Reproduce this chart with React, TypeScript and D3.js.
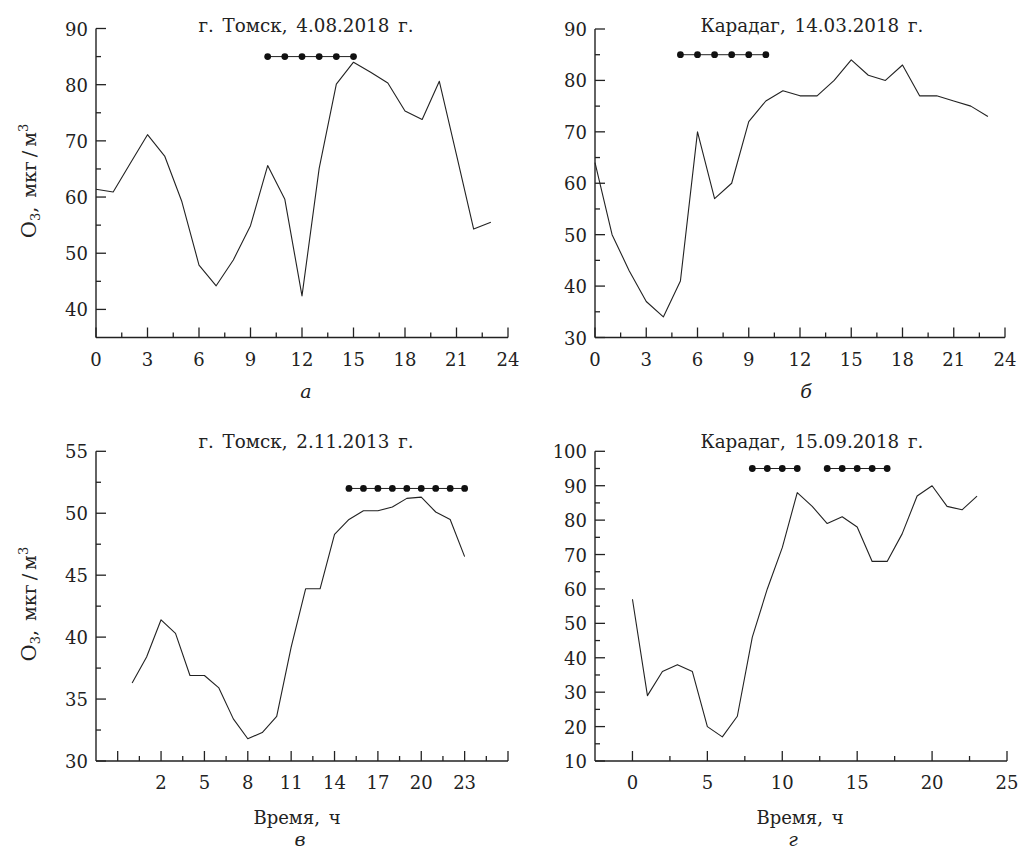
import React from "react";
import * as d3 from "d3";

// ---------- DATA ----------
const hours = [0, 1, 2, 3, 4, 5, 6, 7, 8, 9, 10, 11, 12, 13, 14, 15, 16, 17, 18, 19, 20, 21, 22, 23];

const tomskAug = [61.4, 60.9, 66.0, 71.1, 67.3, 59.2, 47.9, 44.2, 48.8, 54.9, 65.6, 59.6, 42.4, 65.1, 80.1, 84.0, 82.2, 80.3, 75.3, 73.8, 80.6, 67.5, 54.3, 55.5];
const karadagMar = [64, 50, 43, 37, 34, 41, 70, 57, 60, 72, 76, 78, 77, 77, 80, 84, 81, 80, 83, 77, 77, 76, 75, 73];
const tomskNov = [36.3, 38.4, 41.4, 40.3, 36.9, 36.9, 35.9, 33.4, 31.8, 32.3, 33.6, 39.2, 43.9, 43.9, 48.3, 49.5, 50.2, 50.2, 50.5, 51.2, 51.3, 50.1, 49.5, 46.5];
const karadagSep = [57, 29, 36, 38, 36, 20, 17, 23, 46, 60, 72, 88, 84, 79, 81, 78, 68, 68, 76, 87, 90, 84, 83, 87];

// marker (dotted) bars: hours and level
const markA = [[10, 11, 12, 13, 14, 15]];
const markALevel = 85;
const markB = [[5, 6, 7, 8, 9, 10]];
const markBLevel = 85;
const markC = [[15, 16, 17, 18, 19, 20, 21, 22, 23]];
const markCLevel = 52;
const markD = [[8, 9, 10, 11], [13, 14, 15, 16, 17]];
const markDLevel = 95;

// titles
const titles = ["г. Томск, 4.08.2018 г.", "Карадаг, 14.03.2018 г.", "г. Томск, 2.11.2013 г.", "Карадаг, 15.09.2018 г."];
const panelLetters = ["а", "б", "в", "г"];
const xAxisTitle = "Время, ч";

// ticks
const xMajorA = [0, 3, 6, 9, 12, 15, 18, 21, 24];
const xMinorA = [1.5, 4.5, 7.5, 10.5, 13.5, 16.5, 19.5, 22.5];
const yMajorA = [40, 50, 60, 70, 80, 90];
const yMinorA = [45, 55, 65, 75, 85];

const yMajorB = [30, 40, 50, 60, 70, 80, 90];
const yMinorB = [35, 45, 55, 65, 75, 85];

const xMajorC = [-1, 2, 5, 8, 11, 14, 17, 20, 23, 26];
const xLabelsC = [2, 5, 8, 11, 14, 17, 20, 23];
const xMinorC = [0.5, 3.5, 6.5, 9.5, 12.5, 15.5, 18.5, 21.5, 24.5];
const yMajorC = [30, 35, 40, 45, 50, 55];
const yMinorC = [32.5, 37.5, 42.5, 47.5, 52.5];

const xMajorD = [0, 5, 10, 15, 20, 25];
const xMinorD = [2.5, 7.5, 12.5, 17.5, 22.5];
const yMajorD = [10, 20, 30, 40, 50, 60, 70, 80, 90, 100];
const yMinorD = [15, 25, 35, 45, 55, 65, 75, 85, 95];

const FONT = "DejaVu Serif";
const INK = "#222";

type PanelProps = {
  left: number; right: number; top: number; bottom: number;
  xDomain: [number, number]; yDomain: [number, number];
  values: number[];
  xMajor: number[]; xMinor: number[]; xLabels: number[];
  yMajor: number[]; yMinor: number[];
  marks: number[][]; markLevel: number;
  title: string; titleX: number; titleY: number;
  letter: string; letterX: number; letterY: number;
  yLabel: boolean; xTitle: boolean; xTitleX: number;
};

function Panel(p: PanelProps) {
  const x = d3.scaleLinear().domain(p.xDomain).range([p.left, p.right]);
  const y = d3.scaleLinear().domain(p.yDomain).range([p.bottom, p.top]);
  const line = d3.line<number>().x((_, i) => x(hours[i])).y((d) => y(d));
  const majorLen = 10;
  const minorLen = 5;
  const fs = 18;
  return (
    <g style={{ fontFamily: FONT }}>
      {/* axes */}
      <line x1={p.left} x2={p.left} y1={p.bottom} y2={y(p.yDomain[1])} stroke={INK} strokeWidth={1.4} />
      <line x1={p.left} x2={x(p.xDomain[1])} y1={p.bottom} y2={p.bottom} stroke={INK} strokeWidth={1.4} />
      {p.xMajor.map((t) => (
        <line key={"xM" + t} x1={x(t)} x2={x(t)} y1={p.bottom} y2={p.bottom - majorLen} stroke={INK} strokeWidth={1.3} />
      ))}
      {p.xMinor.map((t) => (
        <line key={"xm" + t} x1={x(t)} x2={x(t)} y1={p.bottom} y2={p.bottom - minorLen} stroke={INK} strokeWidth={1.3} />
      ))}
      {p.yMajor.map((t) => (
        <line key={"yM" + t} x1={p.left} x2={p.left + majorLen} y1={y(t)} y2={y(t)} stroke={INK} strokeWidth={1.3} />
      ))}
      {p.yMinor.map((t) => (
        <line key={"ym" + t} x1={p.left} x2={p.left + minorLen} y1={y(t)} y2={y(t)} stroke={INK} strokeWidth={1.3} />
      ))}
      {p.xLabels.map((t) => (
        <text key={"xl" + t} x={x(t)} y={p.bottom + 28} textAnchor="middle" fontSize={fs} fill={INK}>{t}</text>
      ))}
      {p.yMajor.map((t) => (
        <text key={"yl" + t} x={p.left - 8} y={y(t) + 7} textAnchor="end" fontSize={fs} fill={INK}>{t}</text>
      ))}
      {/* data line */}
      <path d={line(p.values) || ""} fill="none" stroke={INK} strokeWidth={1.1} strokeLinejoin="round" />
      {/* marks */}
      {p.marks.map((grp, gi) => (
        <g key={"g" + gi}>
          <line x1={x(grp[0])} x2={x(grp[grp.length - 1])} y1={y(p.markLevel)} y2={y(p.markLevel)} stroke={INK} strokeWidth={1} />
          {grp.map((h) => (
            <circle key={h} cx={x(h)} cy={y(p.markLevel)} r={3.4} fill="#111" />
          ))}
        </g>
      ))}
      {/* title */}
      <text x={p.titleX} y={p.titleY} textAnchor="middle" fontSize={18.3} fill={INK} wordSpacing={3}>{p.title}</text>
      {/* letter */}
      <text x={p.letterX} y={p.letterY} textAnchor="middle" fontSize={19} fontStyle="italic" fill={INK}>{p.letter}</text>
      {p.yLabel && (
        <text transform={`translate(36,${(p.top + p.bottom) / 2 - 2}) rotate(-90)`} textAnchor="middle" fontSize={19} fill={INK}>
          <tspan fontSize={21}>O</tspan>
          <tspan fontSize={13} dy={4}>3</tspan>
          <tspan dy={-4}>,</tspan>
          <tspan dx={9}>мкг</tspan>
          <tspan dx={4}>/</tspan>
          <tspan dx={4}>м</tspan>
          <tspan fontSize={13} dy={-8}>3</tspan>
        </text>
      )}
      {p.xTitle && (
        <text x={p.xTitleX} y={p.bottom + 63} textAnchor="middle" fontSize={18} fill={INK} wordSpacing={3}>{xAxisTitle}</text>
      )}
    </g>
  );
}

export default function App() {
  return (
    <svg width={1019} height={851} style={{ position: "absolute", left: 0, top: 0, background: "#fff" }}>
      <rect x={0} y={0} width={1019} height={851} fill="#fff" />
      <Panel left={96} right={508} top={28.5} bottom={337.5} xDomain={[0, 24]} yDomain={[35, 90]}
        values={tomskAug} xMajor={xMajorA} xMinor={xMinorA} xLabels={xMajorA} yMajor={yMajorA} yMinor={yMinorA}
        marks={markA} markLevel={markALevel} title={titles[0]} titleX={306} titleY={32}
        letter={panelLetters[0]} letterX={306} letterY={398} yLabel={true} xTitle={false} xTitleX={300} />
      <Panel left={595} right={1005} top={29} bottom={337.5} xDomain={[0, 24]} yDomain={[30, 90]}
        values={karadagMar} xMajor={xMajorA} xMinor={xMinorA} xLabels={xMajorA} yMajor={yMajorB} yMinor={yMinorB}
        marks={markB} markLevel={markBLevel} title={titles[1]} titleX={812} titleY={32}
        letter={panelLetters[1]} letterX={806} letterY={398} yLabel={false} xTitle={false} xTitleX={800} />
      <Panel left={96} right={508} top={451.3} bottom={761} xDomain={[-2.5, 26]} yDomain={[30, 55]}
        values={tomskNov} xMajor={xMajorC} xMinor={xMinorC} xLabels={xLabelsC} yMajor={yMajorC} yMinor={yMinorC}
        marks={markC} markLevel={markCLevel} title={titles[2]} titleX={306} titleY={448}
        letter={panelLetters[2]} letterX={300} letterY={846} yLabel={true} xTitle={true} xTitleX={297} />
      <Panel left={595} right={1007} top={451.3} bottom={761} xDomain={[-2.5, 25]} yDomain={[10, 100]}
        values={karadagSep} xMajor={xMajorD} xMinor={xMinorD} xLabels={xMajorD} yMajor={yMajorD} yMinor={yMinorD}
        marks={markD} markLevel={markDLevel} title={titles[3]} titleX={812} titleY={448}
        letter={panelLetters[3]} letterX={793} letterY={846} yLabel={false} xTitle={true} xTitleX={800} />
    </svg>
  );
}
